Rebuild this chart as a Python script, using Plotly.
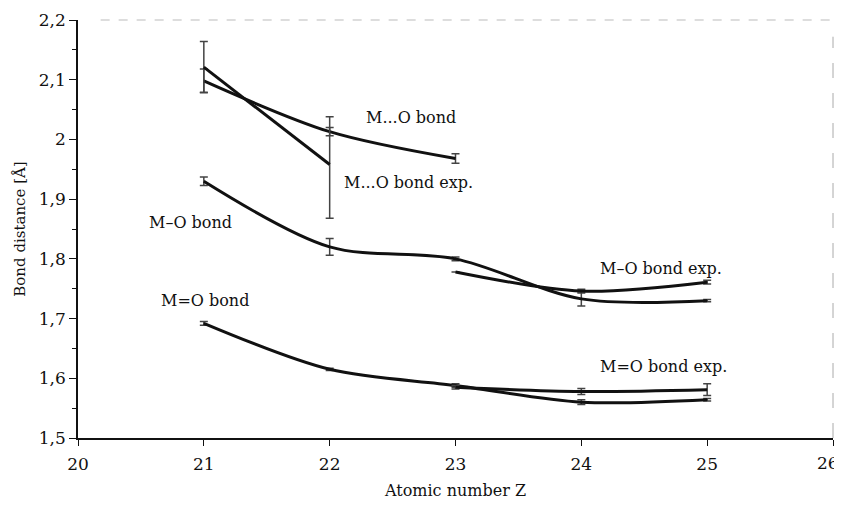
import plotly.graph_objects as go

# ---- data ----
z_all = [21, 22, 23, 24, 25]
z_mo2_exp = [21, 22]
z_exp = [23, 24, 25]

mo2_calc = [2.098, 2.013, 1.968]          # M...O bond
mo2_calc_err = [0.02, 0.007, 0.008]
mo2_exp = [2.121, 1.958]                  # M...O bond exp.
mo2_exp_err_plus = [0.043, 0.08]
mo2_exp_err_minus = [0.042, 0.09]

mo_calc = [1.93, 1.82, 1.80, 1.733, 1.73]   # M–O bond
mo_calc_err = [0.007, 0.014, 0.003, 0.012, 0.002]
mo_exp = [1.778, 1.746, 1.761]              # M–O bond exp.
mo_exp_err = [0.0, 0.003, 0.003]

mdo_calc = [1.692, 1.615, 1.588, 1.56, 1.564]  # M=O bond
mdo_calc_err = [0.003, 0.002, 0.003, 0.004, 0.002]
mdo_exp = [1.585, 1.578, 1.581]                # M=O bond exp.
mdo_exp_err = [0.003, 0.005, 0.01]

x_ticks = [20, 21, 22, 23, 24, 25, 26]
x_ticktext = ["20", "21", "22", "23", "24", "25", ""]   # "26" drawn separately
last_x_label = "26"
y_ticks = [1.5, 1.6, 1.7, 1.8, 1.9, 2.0, 2.1, 2.2]

labels = [
    ("M...O bond", 22.27, 2.037),
    ("M...O bond exp.", 22.10, 1.928),
    ("M–O bond", 20.55, 1.861),
    ("M–O bond exp.", 24.13, 1.784),
    ("M=O bond", 20.64, 1.731),
    ("M=O bond exp.", 24.13, 1.619),
]

FONT = "DejaVu Serif, Liberation Serif, serif"
LINE = dict(color="#111111", width=3, shape="spline", smoothing=0.9)
ERR = dict(type="data", thickness=1.5, width=4, color="#444444")

fig = go.Figure()

def add(x, y, err=None, plus=None, minus=None):
    if plus is not None:
        e = dict(ERR, array=plus, arrayminus=minus, symmetric=False)
    else:
        e = dict(ERR, array=err)
    fig.add_trace(go.Scatter(x=x, y=y, mode="lines", line=LINE,
                             error_y=e, showlegend=False, hoverinfo="x+y"))

add(z_all[:3], mo2_calc, mo2_calc_err)
add(z_mo2_exp, mo2_exp, plus=mo2_exp_err_plus, minus=mo2_exp_err_minus)
add(z_all, mo_calc, mo_calc_err)
add(z_exp, mo_exp, mo_exp_err)
add(z_all, mdo_calc, mdo_calc_err)
add(z_exp, mdo_exp, mdo_exp_err)

for text, x, y in labels:
    fig.add_annotation(x=x, y=y, text=text, showarrow=False, xanchor="left",
                       yanchor="middle", font=dict(family=FONT, size=16, color="#111"))

# last x tick label, kept inside the page
fig.add_annotation(x=1, y=0, xref="paper", yref="paper", text=last_x_label,
                   showarrow=False, xanchor="right", yanchor="top", xshift=8, yshift=-13,
                   font=dict(family=FONT, size=17, color="#111"))

# faint top and right frame lines
fig.add_shape(type="line", xref="paper", yref="paper", x0=0.03, x1=1, y0=1, y1=1,
              line=dict(color="#bbbbbb", width=1, dash="dash"))
fig.add_shape(type="line", xref="paper", yref="paper", x0=1, x1=1, y0=0, y1=0.96,
              line=dict(color="#aaaaaa", width=1, dash="longdash"))

# page body has an 8px margin, so the figure is made smaller to fit the window
fig.update_layout(
    width=834, height=492,
    margin=dict(l=70, r=9, t=12, b=62),
    paper_bgcolor="white", plot_bgcolor="white",
    separators=", ",
    font=dict(family=FONT, size=16, color="#111"),
    xaxis=dict(range=[20, 26], tickvals=x_ticks, ticktext=x_ticktext,
               ticks="outside", ticklen=6,
               tickwidth=1, tickcolor="#111", showgrid=False, zeroline=False,
               showline=True, linecolor="#111", linewidth=1.5, automargin=False,
               ticklabelstandoff=4,
               title=dict(text="Atomic number Z", font=dict(size=16), standoff=12),
               tickfont=dict(size=17)),
    yaxis=dict(range=[1.5, 2.2], tickvals=y_ticks, ticks="outside", ticklen=7,
               tickwidth=1, tickcolor="#111", showgrid=False, zeroline=False,
               showline=True, linecolor="#111", linewidth=1.5, automargin=False,
               minor=dict(dtick=0.05, ticks="outside", ticklen=4, tickcolor="#111"),
               title=dict(text="Bond distance [Å]", font=dict(size=15), standoff=10),
               tickfont=dict(size=17)),
)

fig.write_html("out.html")
